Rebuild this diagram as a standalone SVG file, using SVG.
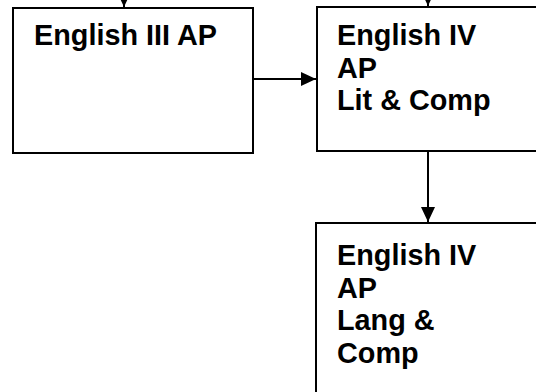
<svg xmlns="http://www.w3.org/2000/svg" width="536" height="392" viewBox="0 0 536 392">
<style>
.box{fill:#fff;stroke:#000;stroke-width:2}
.t{font-family:"Liberation Sans",Arial,sans-serif;font-weight:bold;font-size:28.8px;fill:#000}
.c{stroke:#000;stroke-width:2;fill:none}
</style>
<defs>
<marker id="ah" markerWidth="16" markerHeight="14" refX="15" refY="7" orient="auto" markerUnits="userSpaceOnUse">
<path d="M0,0 L15,7 L0,14 Z" fill="#000"/>
</marker>
</defs>
<g id="box1">
<rect class="box" x="13" y="8" width="240" height="145"/>
<text class="t" x="34" y="45">English III AP</text>
</g>
<g id="box2">
<rect class="box" x="317" y="7" width="250" height="144"/>
<text class="t" x="337" y="45"><tspan x="337">English IV</tspan><tspan x="337" dy="32.5">AP</tspan><tspan x="337" dy="32.5">Lit &amp; Comp</tspan></text>
</g>
<g id="box3">
<rect class="box" x="316" y="223" width="250" height="200"/>
<text class="t" x="337" y="265"><tspan x="337">English IV</tspan><tspan x="337" dy="32.5">AP</tspan><tspan x="337" dy="32.5">Lang &amp;</tspan><tspan x="337" dy="32.5">Comp</tspan></text>
</g>
<g id="connectors">
<line class="c" x1="124" y1="-20" x2="124" y2="7" marker-end="url(#ah)"/>
<line class="c" x1="428" y1="-20" x2="428" y2="6" marker-end="url(#ah)"/>
<line class="c" x1="253" y1="79" x2="316" y2="79" marker-end="url(#ah)"/>
<line class="c" x1="428" y1="151" x2="428" y2="222" marker-end="url(#ah)"/>
</g>
</svg>
